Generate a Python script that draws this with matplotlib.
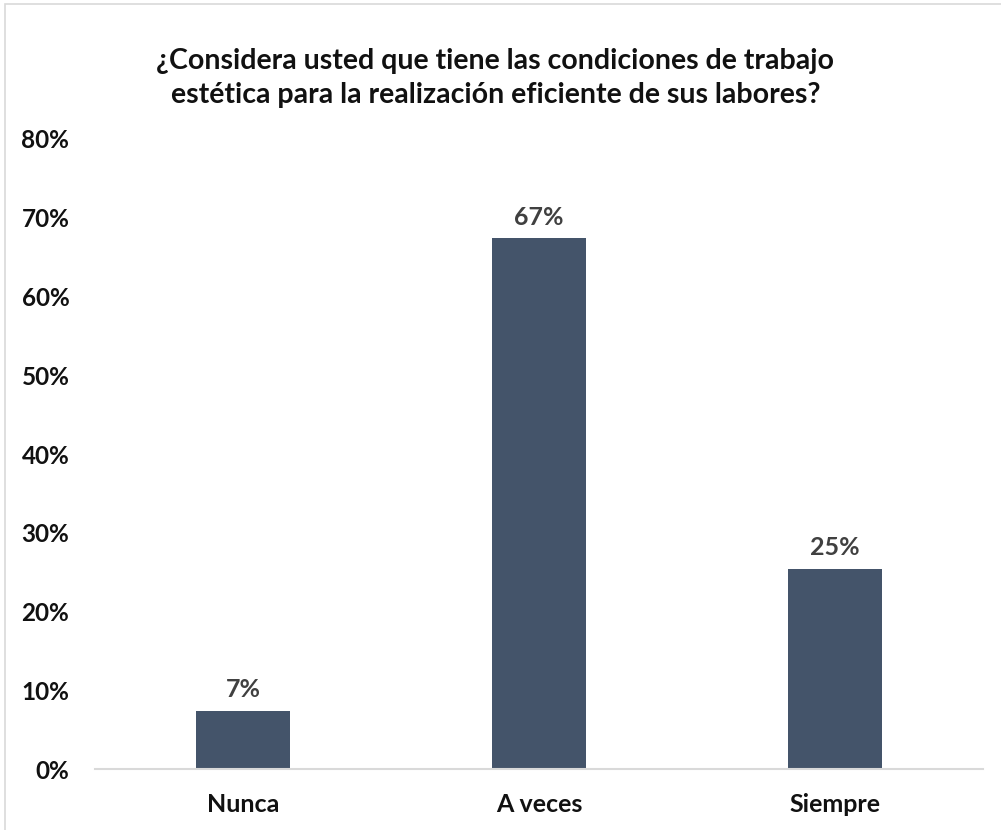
import matplotlib.pyplot as plt
from matplotlib.ticker import PercentFormatter

plt.rcParams['font.family'] = ['Lato', 'DejaVu Sans']

# survey answers and their shares
categorias = ['Nunca', 'A veces', 'Siempre']
porcentajes = [0.074, 0.674, 0.254]
titulo = ('¿Considera usted que tiene las condiciones de trabajo\n'
          'estética para la realización eficiente de sus labores?')

fig = plt.figure(figsize=(10.01, 8.30), dpi=100)
ax = fig.add_axes([95 / 1001, 1 - 769 / 830, 888 / 1001, 630 / 830])

x = range(len(categorias))
barras = ax.bar(x, porcentajes, width=0.32, color='#44546A', zorder=2)

for b, v in zip(barras, porcentajes):
    ax.annotate(f'{v:.0%}', (b.get_x() + b.get_width() / 2, v),
                xytext=(0, 7), textcoords='offset points',
                ha='center', va='bottom', fontsize=18, fontweight='bold',
                color='#404040')

ax.set_xlim(-0.5, 2.5)
ax.set_ylim(0, 0.8)
ax.set_yticks([i / 10 for i in range(9)])
ax.yaxis.set_major_formatter(PercentFormatter(1.0, decimals=0))
ax.set_xticks(list(x))
ax.set_xticklabels(categorias)

for s in ['top', 'right', 'left']:
    ax.spines[s].set_visible(False)
ax.spines['bottom'].set_color('#D9D9D9')
ax.spines['bottom'].set_linewidth(1.5)

ax.tick_params(axis='both', length=0, labelsize=17.5, colors='#111111')
ax.tick_params(axis='x', labelsize=18, pad=17)
ax.tick_params(axis='y', pad=18.5)
for lbl in ax.get_xticklabels() + ax.get_yticklabels():
    lbl.set_fontweight('bold')

fig.text(0.495, 1 - 78 / 830, titulo, ha='center', va='center',
         fontsize=20.5, fontweight='bold', color='#111111', linespacing=1.4)

# thin frame around the chart area
fig.patches.append(plt.Rectangle((5 / 1001, -0.01), 1.0, 1 - 4 / 830 + 0.01,
                                 transform=fig.transFigure, fill=False,
                                 edgecolor='#D9D9D9', linewidth=1.2))

fig.savefig('out.png', dpi=100)
